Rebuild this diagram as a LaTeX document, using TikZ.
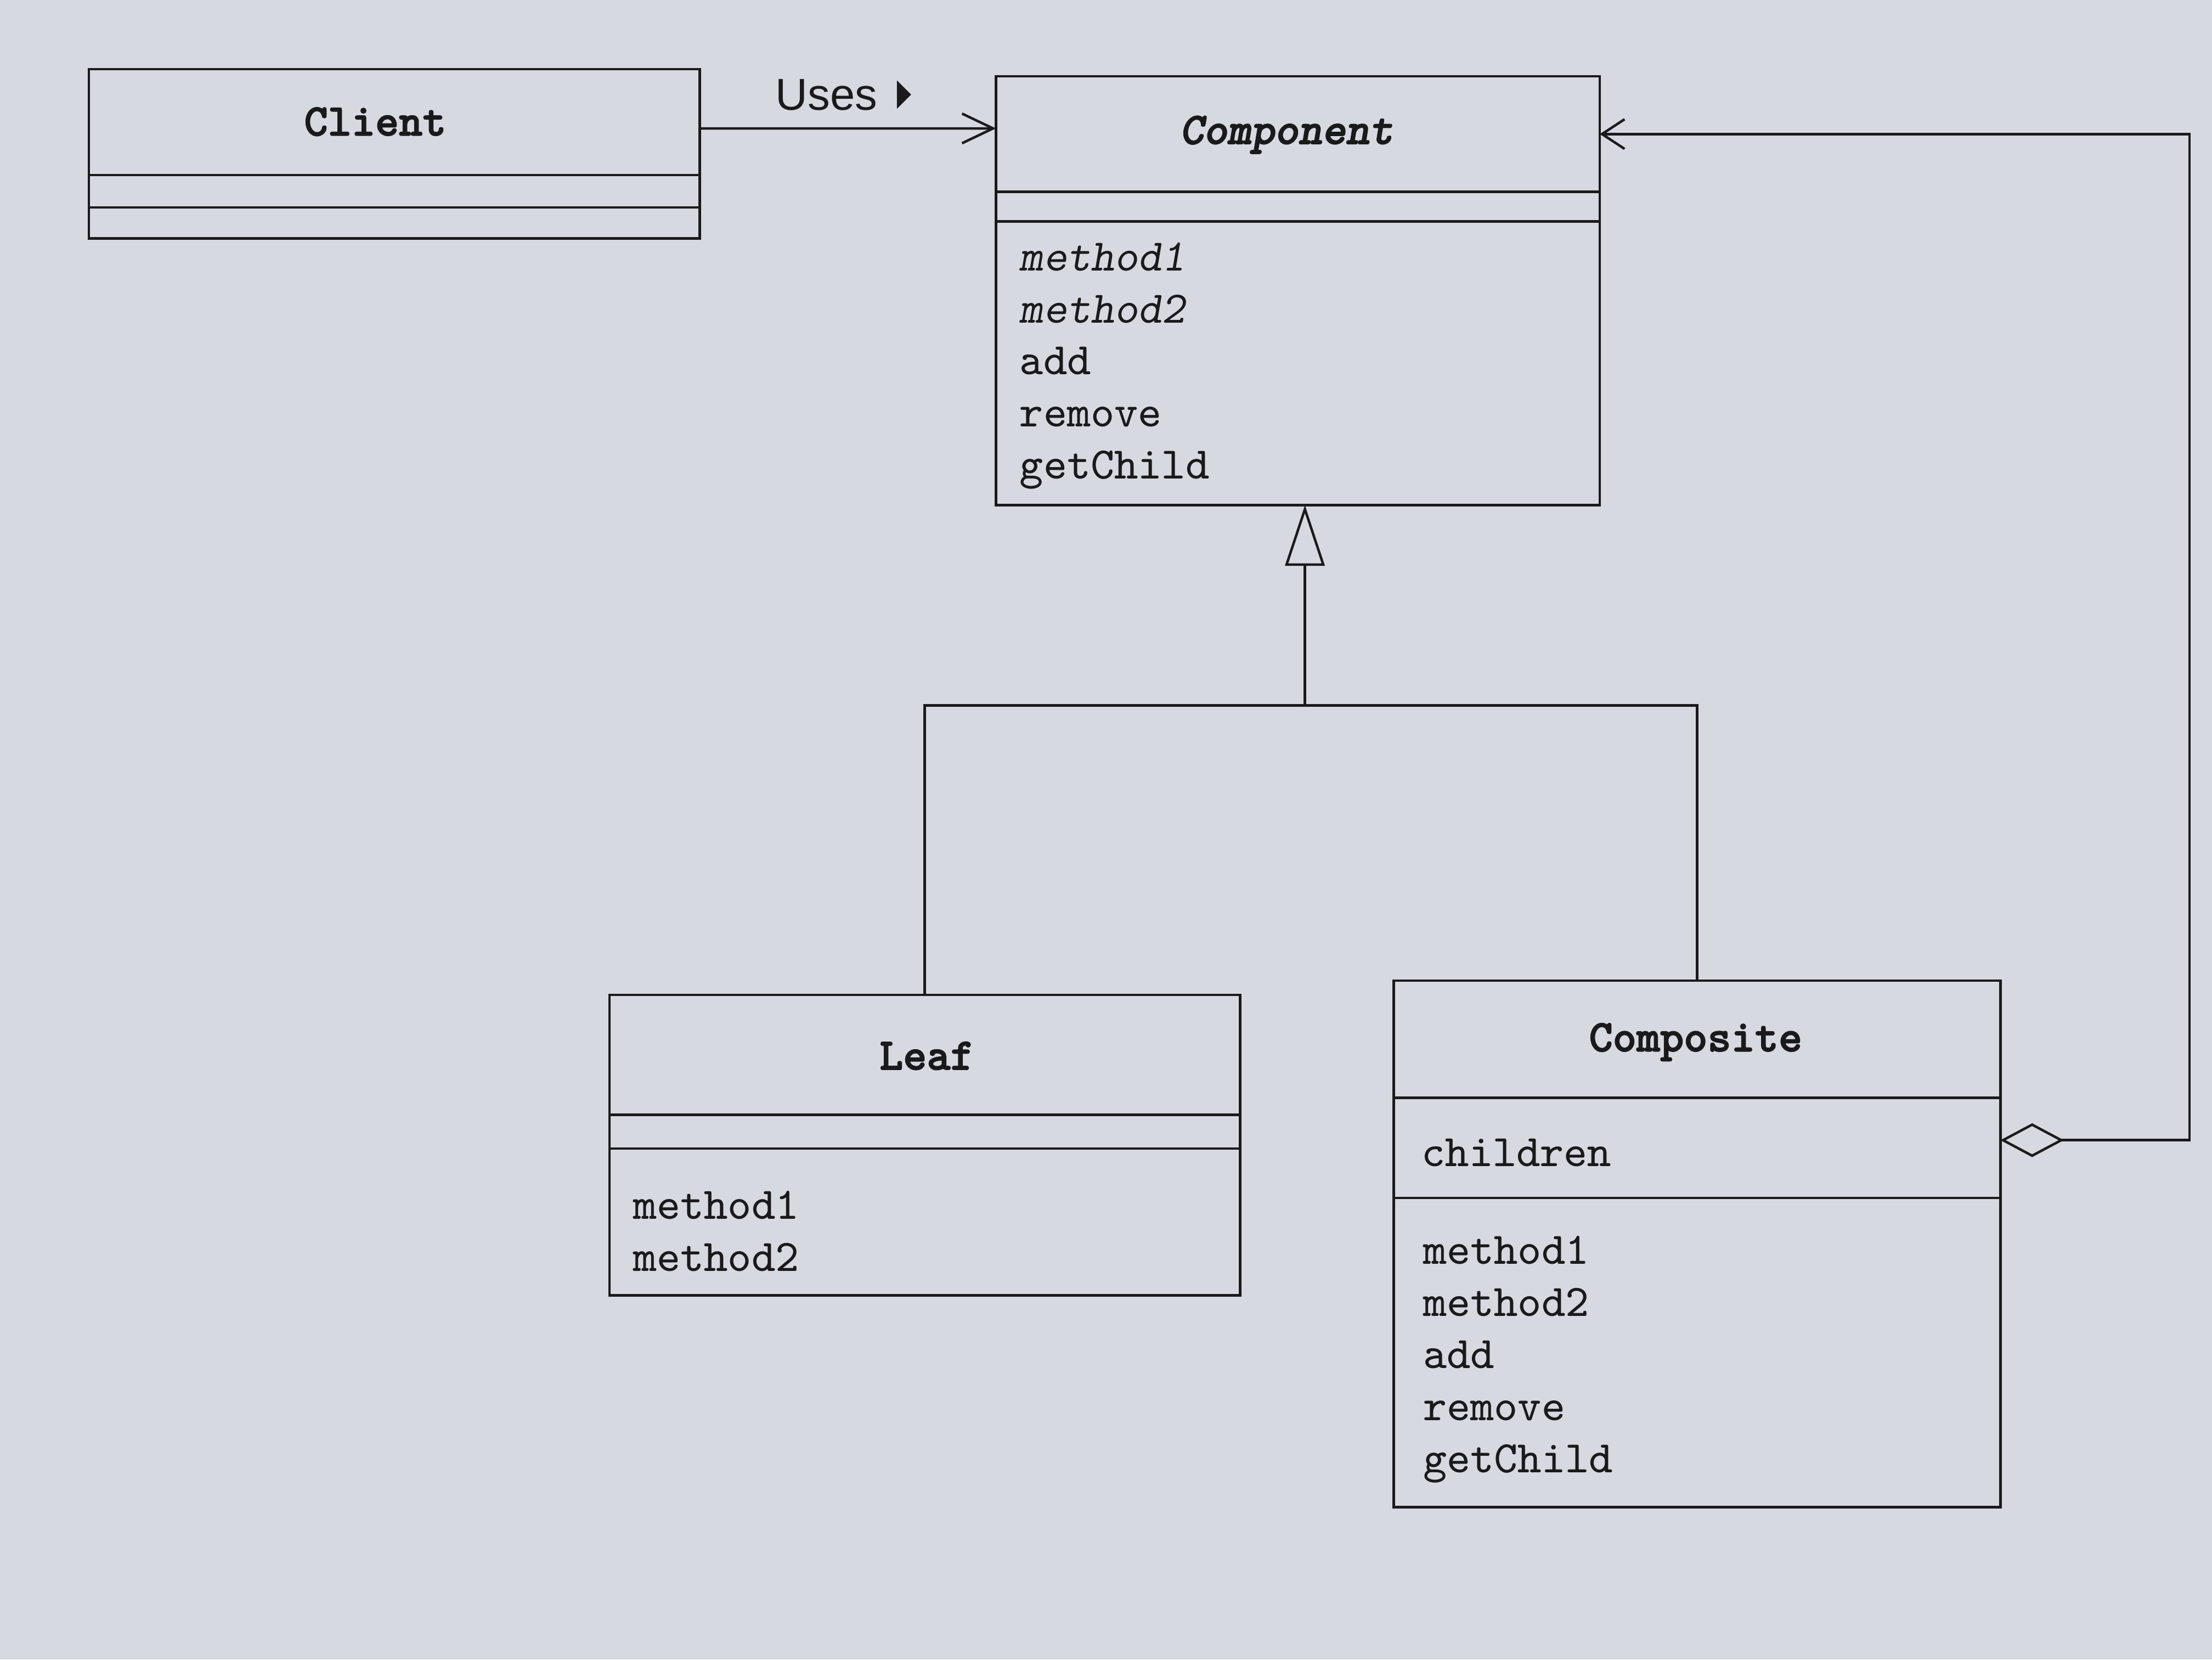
\documentclass[tikz,border=0pt]{standalone}
\usepackage{fontspec}
\setmainfont{Liberation Sans}
\newfontfamily\clsfont{lmmonolt10-bold.otf}[ItalicFont=lmmonolt10-boldoblique.otf, FakeBold=2]
\usepackage{tikz}
\usetikzlibrary{arrows.meta,positioning,calc}

\definecolor{paper}{RGB}{214,217,224}
\definecolor{ink}{RGB}{26,26,28}

\begin{document}
\begin{tikzpicture}[x=0.1mm, y=-0.1mm, line width=0.5pt, ink,
  classbox/.style={draw, rectangle, anchor=north west, inner sep=0pt, outer sep=0pt},
  clsname/.style={font=\clsfont\fontsize{9.1}{10}\selectfont, anchor=base},
  members/.style={font=\ttfamily\fontsize{9.1}{10.5}\selectfont, align=left, anchor=north west, inner sep=0pt},
  assoc/.style={-{Straight Barb[length=2.2mm, width=2.1mm]}},
  inherit/.style={-{Triangle[open, length=4.3mm, width=2.8mm]}},
  aggr/.style={{Diamond[open, length=4.5mm, width=2.4mm]}-{Straight Barb[length=1.6mm, width=2.1mm]}}]

% Papier
\fill[paper] (0,0) rectangle (1568,1176);

% Client
\node[classbox, minimum width=43.3mm, minimum height=12mm] (client) at (63,49) {};
\draw (client.north west) ++(0,75) -- ++(433,0);
\draw (client.north west) ++(0,98) -- ++(433,0);
\node[clsname] (clientname) at (266,96) {Client};

% Component
\node[classbox, minimum width=42.8mm, minimum height=30.4mm] (component) at (706,54) {};
\draw (component.north west) ++(0,82) -- ++(428,0);
\draw (component.north west) ++(0,103) -- ++(428,0);
\node[clsname] (compname) at (912,102) {\itshape Component};
\node[members] (compops) at (722,171)
{{\slshape method1}\\{\slshape method2}\\add\\remove\\getChild};

% Leaf
\node[classbox, minimum width=44.7mm, minimum height=21.3mm] (leaf) at (432,705) {};
\draw (leaf.north west) ++(0,85) -- ++(447,0);
\draw (leaf.north west) ++(0,109) -- ++(447,0);
\node[clsname] (leafname) at (657,758) {Leaf};
\node[members] (leafops) at (448,843) {method1\\method2};

% Composite
\node[classbox, minimum width=43mm, minimum height=37.3mm] (composite) at (988,695) {};
\draw (composite.north west) ++(0,83) -- ++(430,0);
\draw (composite.north west) ++(0,154) -- ++(430,0);
\node[clsname] (compositename) at (1202,745) {Composite};
\node[members] (compositefields) at (1007,806) {children};
\node[members] (compositeops) at (1008,875)
{method1\\method2\\add\\remove\\getChild};

% Uses
\draw[assoc] ([yshift=-4.2mm]client.north east) -- ([yshift=-3.7mm]component.north west);
\node[anchor=base west, inner sep=0pt, font=\fontsize{9}{11}\selectfont] (uses) at (549,78) {Uses};
\fill ($(uses.base east)+(13,-21)$) -- ++(0,20) -- ++(10,-10) -- cycle;

% Vererbung
\coordinate (joint) at (925,500);
\draw[inherit] (joint) -- (joint |- component.south);
\draw (leaf.north) |- (joint);
\draw (composite.north) |- (joint);

% children
\draw[aggr] ([yshift=-11.3mm]composite.north east) -- ++(134,0)
  |- ([yshift=-4.1mm]component.north east);

\end{tikzpicture}
\end{document}
